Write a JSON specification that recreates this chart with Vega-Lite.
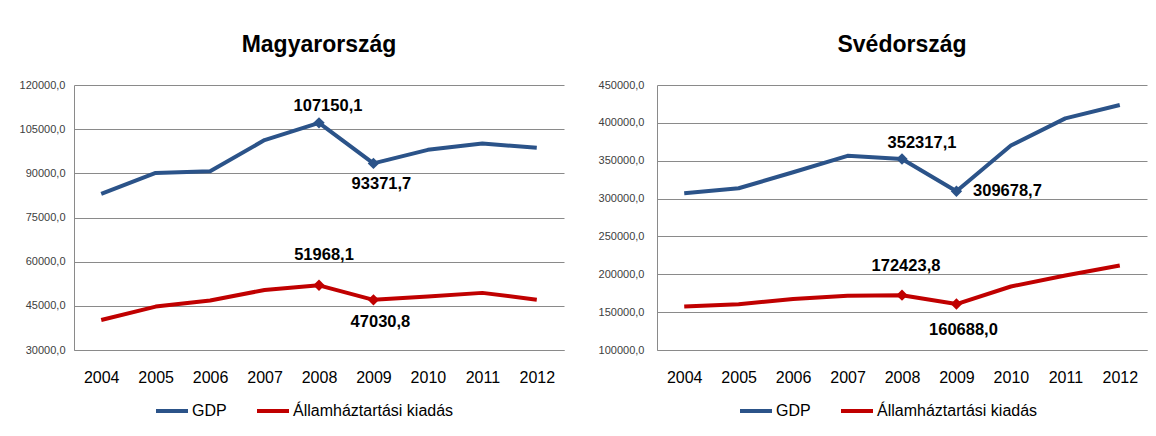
{
  "$schema": "https://vega.github.io/schema/vega-lite/v6.json",
  "padding": {"left": 19, "top": 34, "right": 5, "bottom": 5},
  "background": "white",
  "config": {
    "locale": {"number": {"decimal": ",", "thousands": ".", "grouping": [3], "currency": ["", ""]}},
    "view": {"stroke": null},
    "font": "Liberation Sans",
    "concat": {"spacing": 34},
    "axis": {
      "gridColor": "#8a8a8a", "gridWidth": 1, "domainColor": "#8a8a8a", "domainWidth": 1,
      "ticks": false, "title": null, "labelFont": "Liberation Sans"
    },
    "axisX": {"labelFontSize": 16, "labelColor": "#000", "labelPadding": 19, "labelAngle": 0, "grid": false},
    "axisY": {"labelFontSize": 11, "labelColor": "#404040", "grid": true, "labelOverlap": false},
    "legend": {
      "orient": "none", "direction": "horizontal", "title": null, "labelFontSize": 16, "labelColor": "#000",
      "labelFont": "Liberation Sans", "labelLimit": 400,
      "symbolType": "stroke", "symbolStrokeWidth": 4, "symbolSize": 1024, "columnPadding": 22, "labelOffset": 2
    },
    "title": {"fontSize": 23, "fontWeight": "bold", "color": "#000", "font": "Liberation Sans", "anchor": "middle", "offset": 22}
  },
  "resolve": {"scale": {"color": "independent"}, "legend": {"color": "independent"}},
  "hconcat": [
    {
      "width": 490, "height": 265,
      "title": "Magyarország",
      "data": {"values": [
        {"year": 2004, "series": "GDP", "value": 83000},
        {"year": 2005, "series": "GDP", "value": 90150},
        {"year": 2006, "series": "GDP", "value": 90700},
        {"year": 2007, "series": "GDP", "value": 101300},
        {"year": 2008, "series": "GDP", "value": 107150.1},
        {"year": 2009, "series": "GDP", "value": 93371.7},
        {"year": 2010, "series": "GDP", "value": 97980},
        {"year": 2011, "series": "GDP", "value": 100100},
        {"year": 2012, "series": "GDP", "value": 98700},
        {"year": 2004, "series": "Államháztartási kiadás", "value": 40200},
        {"year": 2005, "series": "Államháztartási kiadás", "value": 44750},
        {"year": 2006, "series": "Államháztartási kiadás", "value": 46800},
        {"year": 2007, "series": "Államháztartási kiadás", "value": 50400},
        {"year": 2008, "series": "Államháztartási kiadás", "value": 51968.1},
        {"year": 2009, "series": "Államháztartási kiadás", "value": 47030.8},
        {"year": 2010, "series": "Államháztartási kiadás", "value": 48200},
        {"year": 2011, "series": "Államháztartási kiadás", "value": 49400},
        {"year": 2012, "series": "Államháztartási kiadás", "value": 47100}
      ]},
      "encoding": {
        "x": {"field": "year", "type": "ordinal", "scale": {"type": "point", "padding": 0.5}},
        "y": {"field": "value", "type": "quantitative", "scale": {"domain": [30000, 120000], "nice": false},
              "axis": {"values": [30000, 45000, 60000, 75000, 90000, 105000, 120000], "format": ".1f", "labelPadding": 9}},
        "color": {"field": "series", "type": "nominal",
                  "scale": {"domain": ["GDP", "Államháztartási kiadás"], "range": ["#2B5389", "#C00000"]},
                  "legend": {"legendX": 80, "legendY": 308}}
      },
      "layer": [
        {"mark": {"type": "line", "strokeWidth": 4, "strokeJoin": "round"}},
        {"transform": [{"filter": "datum.year == 2008 || datum.year == 2009"}],
         "mark": {"type": "point", "shape": "diamond", "filled": true, "opacity": 1, "size": 130}},
        {"transform": [{"filter": "datum.year == 2008 && datum.series == 'GDP'"}],
         "mark": {"type": "text", "fontSize": 16.5, "fontWeight": "bold", "dx": 9, "dy": -17},
         "encoding": {"text": {"field": "value", "type": "quantitative", "format": ".1f"}, "color": {"value": "#000"}}},
        {"transform": [{"filter": "datum.year == 2009 && datum.series == 'GDP'"}],
         "mark": {"type": "text", "fontSize": 16.5, "fontWeight": "bold", "dx": 8, "dy": 21},
         "encoding": {"text": {"field": "value", "type": "quantitative", "format": ".1f"}, "color": {"value": "#000"}}},
        {"transform": [{"filter": "datum.year == 2008 && datum.series != 'GDP'"}],
         "mark": {"type": "text", "fontSize": 16.5, "fontWeight": "bold", "dx": 5, "dy": -30},
         "encoding": {"text": {"field": "value", "type": "quantitative", "format": ".1f"}, "color": {"value": "#000"}}},
        {"transform": [{"filter": "datum.year == 2009 && datum.series != 'GDP'"}],
         "mark": {"type": "text", "fontSize": 16.5, "fontWeight": "bold", "dx": 7, "dy": 22},
         "encoding": {"text": {"field": "value", "type": "quantitative", "format": ".1f"}, "color": {"value": "#000"}}}
      ]
    },
    {
      "width": 490, "height": 265,
      "title": "Svédország",
      "data": {"values": [
        {"year": 2004, "series": "GDP", "value": 307000},
        {"year": 2005, "series": "GDP", "value": 313600},
        {"year": 2006, "series": "GDP", "value": 334800},
        {"year": 2007, "series": "GDP", "value": 356400},
        {"year": 2008, "series": "GDP", "value": 352317.1},
        {"year": 2009, "series": "GDP", "value": 309678.7},
        {"year": 2010, "series": "GDP", "value": 370100},
        {"year": 2011, "series": "GDP", "value": 405900},
        {"year": 2012, "series": "GDP", "value": 423500},
        {"year": 2004, "series": "Államháztartási kiadás", "value": 157400},
        {"year": 2005, "series": "Államháztartási kiadás", "value": 160500},
        {"year": 2006, "series": "Államháztartási kiadás", "value": 167500},
        {"year": 2007, "series": "Államháztartási kiadás", "value": 171500},
        {"year": 2008, "series": "Államháztartási kiadás", "value": 172423.8},
        {"year": 2009, "series": "Államháztartási kiadás", "value": 160688.0},
        {"year": 2010, "series": "Államháztartási kiadás", "value": 183900},
        {"year": 2011, "series": "Államháztartási kiadás", "value": 198400},
        {"year": 2012, "series": "Államháztartási kiadás", "value": 211700}
      ]},
      "encoding": {
        "x": {"field": "year", "type": "ordinal", "scale": {"type": "point", "padding": 0.5}},
        "y": {"field": "value", "type": "quantitative", "scale": {"domain": [100000, 450000], "nice": false},
              "axis": {"values": [100000, 150000, 200000, 250000, 300000, 350000, 400000, 450000], "format": ".1f", "labelPadding": 13}},
        "color": {"field": "series", "type": "nominal",
                  "scale": {"domain": ["GDP", "Államháztartási kiadás"], "range": ["#2B5389", "#C00000"]},
                  "legend": {"legendX": 81, "legendY": 308}}
      },
      "layer": [
        {"mark": {"type": "line", "strokeWidth": 4, "strokeJoin": "round"}},
        {"transform": [{"filter": "datum.year == 2008 || datum.year == 2009"}],
         "mark": {"type": "point", "shape": "diamond", "filled": true, "opacity": 1, "size": 130}},
        {"transform": [{"filter": "datum.year == 2008 && datum.series == 'GDP'"}],
         "mark": {"type": "text", "fontSize": 16.5, "fontWeight": "bold", "dx": 20, "dy": -16},
         "encoding": {"text": {"field": "value", "type": "quantitative", "format": ".1f"}, "color": {"value": "#000"}}},
        {"transform": [{"filter": "datum.year == 2009 && datum.series == 'GDP'"}],
         "mark": {"type": "text", "fontSize": 16.5, "fontWeight": "bold", "dx": 51, "dy": 0},
         "encoding": {"text": {"field": "value", "type": "quantitative", "format": ".1f"}, "color": {"value": "#000"}}},
        {"transform": [{"filter": "datum.year == 2008 && datum.series != 'GDP'"}],
         "mark": {"type": "text", "fontSize": 16.5, "fontWeight": "bold", "dx": 4, "dy": -29},
         "encoding": {"text": {"field": "value", "type": "quantitative", "format": ".1f"}, "color": {"value": "#000"}}},
        {"transform": [{"filter": "datum.year == 2009 && datum.series != 'GDP'"}],
         "mark": {"type": "text", "fontSize": 16.5, "fontWeight": "bold", "dx": 7, "dy": 26},
         "encoding": {"text": {"field": "value", "type": "quantitative", "format": ".1f"}, "color": {"value": "#000"}}}
      ]
    }
  ]
}
